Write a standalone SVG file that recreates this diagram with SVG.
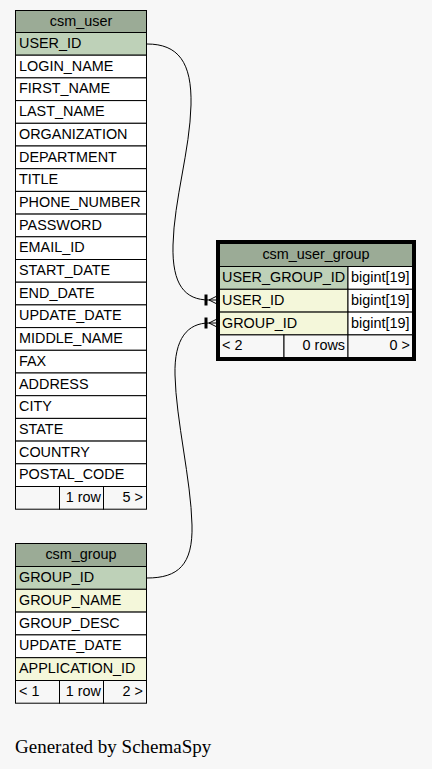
<svg xmlns="http://www.w3.org/2000/svg" width="432" height="769" viewBox="0 0 432 769">
<style>
.t{font-family:"Liberation Sans",Arial,sans-serif;font-size:14.4px;fill:#000}
.c{text-anchor:middle}
.r{text-anchor:end}
.hd{fill:#9bab96;stroke:#000;stroke-width:1}
.pk{fill:#bed1b8;stroke:#000;stroke-width:1}
.fk{fill:#f4f7da;stroke:#000;stroke-width:1}
.w{fill:#fff;stroke:#000;stroke-width:1}
.ft{fill:#f7f7f7;stroke:#000;stroke-width:1}
.edge{fill:none;stroke:#000;stroke-width:1}
</style>
<rect width="432" height="769" fill="#f7f7f7"/>
<g id="connectors">
<path class="edge" d="M147,44 C178,44 192,62 191,105 C190,150 174,200 173,245 C172,285 185,300 209,300"/>
<path d="M209,300 L217,296 M209,300 L217,304 M209,300 L217,300" class="edge" stroke-width="1.5"/>
<line x1="206" y1="294.5" x2="206" y2="305.5" stroke="#000" stroke-width="3"/>
<path class="edge" d="M147,578 C178,578 193,565 192,525 C191,480 176,420 175,375 C174,338 188,323 209,323"/>
<path d="M209,323 L217,319 M209,323 L217,327 M209,323 L217,323" class="edge" stroke-width="1.5"/>
<line x1="206" y1="317.5" x2="206" y2="328.5" stroke="#000" stroke-width="3"/>
</g>
<g id="csm_user">
<rect class="hd" x="15.5" y="10.5" width="131" height="22"/>
<text class="t c" x="81" y="25.5">csm_user</text>
<rect class="pk" x="15.5" y="32.5" width="131" height="22.7"/>
<text class="t" x="19" y="48">USER_ID</text>
<rect class="w" x="15.5" y="55.2" width="131" height="22.7"/>
<text class="t" x="19" y="70.7">LOGIN_NAME</text>
<rect class="w" x="15.5" y="77.9" width="131" height="22.7"/>
<text class="t" x="19" y="93.4">FIRST_NAME</text>
<rect class="w" x="15.5" y="100.6" width="131" height="22.7"/>
<text class="t" x="19" y="116.1">LAST_NAME</text>
<rect class="w" x="15.5" y="123.3" width="131" height="22.7"/>
<text class="t" x="19" y="138.8">ORGANIZATION</text>
<rect class="w" x="15.5" y="146" width="131" height="22.7"/>
<text class="t" x="19" y="161.5">DEPARTMENT</text>
<rect class="w" x="15.5" y="168.7" width="131" height="22.7"/>
<text class="t" x="19" y="184.2">TITLE</text>
<rect class="w" x="15.5" y="191.4" width="131" height="22.7"/>
<text class="t" x="19" y="206.9">PHONE_NUMBER</text>
<rect class="w" x="15.5" y="214.1" width="131" height="22.7"/>
<text class="t" x="19" y="229.6">PASSWORD</text>
<rect class="w" x="15.5" y="236.8" width="131" height="22.7"/>
<text class="t" x="19" y="252.3">EMAIL_ID</text>
<rect class="w" x="15.5" y="259.5" width="131" height="22.7"/>
<text class="t" x="19" y="275">START_DATE</text>
<rect class="w" x="15.5" y="282.2" width="131" height="22.7"/>
<text class="t" x="19" y="297.7">END_DATE</text>
<rect class="w" x="15.5" y="304.9" width="131" height="22.7"/>
<text class="t" x="19" y="320.4">UPDATE_DATE</text>
<rect class="w" x="15.5" y="327.6" width="131" height="22.7"/>
<text class="t" x="19" y="343.1">MIDDLE_NAME</text>
<rect class="w" x="15.5" y="350.3" width="131" height="22.7"/>
<text class="t" x="19" y="365.8">FAX</text>
<rect class="w" x="15.5" y="373" width="131" height="22.7"/>
<text class="t" x="19" y="388.5">ADDRESS</text>
<rect class="w" x="15.5" y="395.7" width="131" height="22.7"/>
<text class="t" x="19" y="411.2">CITY</text>
<rect class="w" x="15.5" y="418.4" width="131" height="22.7"/>
<text class="t" x="19" y="433.9">STATE</text>
<rect class="w" x="15.5" y="441.1" width="131" height="22.7"/>
<text class="t" x="19" y="456.6">COUNTRY</text>
<rect class="w" x="15.5" y="463.8" width="131" height="22.7"/>
<text class="t" x="19" y="479.3">POSTAL_CODE</text>
<rect class="ft" x="15.5" y="486.5" width="44" height="22.7"/>
<rect class="ft" x="59.5" y="486.5" width="44" height="22.7"/>
<rect class="ft" x="103.5" y="486.5" width="43" height="22.7"/>
<text class="t r" x="101" y="502">1 row</text>
<text class="t r" x="143" y="502">5 &gt;</text>
</g>
<g id="csm_user_group">
<rect x="217.5" y="241.5" width="197" height="118" fill="#f7f7f7" stroke="#000" stroke-width="3"/>
<rect class="hd" x="219.5" y="243.5" width="193" height="23"/>
<text class="t c" x="316" y="258.5">csm_user_group</text>
<rect class="pk" x="219.5" y="266.5" width="128.5" height="22.8"/>
<rect class="w" x="348" y="266.5" width="64.5" height="22.8"/>
<text class="t" x="222" y="282">USER_GROUP_ID</text>
<text class="t" x="351" y="282">bigint[19]</text>
<rect class="fk" x="219.5" y="289.3" width="128.5" height="22.8"/>
<rect class="w" x="348" y="289.3" width="64.5" height="22.8"/>
<text class="t" x="222" y="304.8">USER_ID</text>
<text class="t" x="351" y="304.8">bigint[19]</text>
<rect class="fk" x="219.5" y="312.1" width="128.5" height="22.8"/>
<rect class="w" x="348" y="312.1" width="64.5" height="22.8"/>
<text class="t" x="222" y="327.6">GROUP_ID</text>
<text class="t" x="351" y="327.6">bigint[19]</text>
<rect class="ft" x="219.5" y="334.9" width="64.5" height="22.6"/>
<rect class="ft" x="284" y="334.9" width="64" height="22.6"/>
<rect class="ft" x="348" y="334.9" width="64.5" height="22.6"/>
<text class="t" x="222" y="350.4">&lt; 2</text>
<text class="t r" x="345" y="350.4">0 rows</text>
<text class="t r" x="410" y="350.4">0 &gt;</text>
</g>
<g id="csm_group">
<rect class="hd" x="15.5" y="543.5" width="131" height="23"/>
<text class="t c" x="81" y="558.5">csm_group</text>
<rect class="pk" x="15.5" y="566.5" width="131" height="22.8"/>
<text class="t" x="19" y="582">GROUP_ID</text>
<rect class="fk" x="15.5" y="589.3" width="131" height="22.8"/>
<text class="t" x="19" y="604.8">GROUP_NAME</text>
<rect class="w" x="15.5" y="612.1" width="131" height="22.8"/>
<text class="t" x="19" y="627.6">GROUP_DESC</text>
<rect class="w" x="15.5" y="634.9" width="131" height="22.8"/>
<text class="t" x="19" y="650.4">UPDATE_DATE</text>
<rect class="fk" x="15.5" y="657.7" width="131" height="22.8"/>
<text class="t" x="19" y="673.2">APPLICATION_ID</text>
<rect class="ft" x="15.5" y="680.5" width="44" height="22.7"/>
<rect class="ft" x="59.5" y="680.5" width="44" height="22.7"/>
<rect class="ft" x="103.5" y="680.5" width="43" height="22.7"/>
<text class="t" x="19" y="696">&lt; 1</text>
<text class="t r" x="101" y="696">1 row</text>
<text class="t r" x="143" y="696">2 &gt;</text>
</g>
<text x="15" y="753" font-family="'Liberation Serif','Times New Roman',serif" font-size="19" fill="#000">Generated by SchemaSpy</text>
</svg>
